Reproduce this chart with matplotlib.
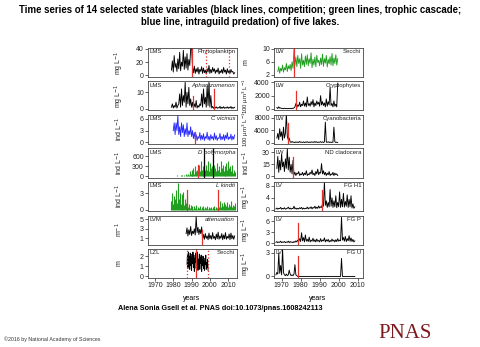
import numpy as np
import matplotlib.pyplot as plt

plt.rcParams['font.family'] = ['Liberation Sans', 'DejaVu Sans']

# ---- lake time series (half-yearly unless noted) ----
phyto_start = 1979.0
phyto = [8, 22, 5, 30, 12, 18, 6, 25, 10, 35, 7, 20, 14, 38, 9, 28, 11, 33, 8, 24, 15, 40,
         45, 12,
         4, 14, 3, 10, 5, 12, 2, 9, 6, 13, 3, 11, 4, 8, 2, 10, 5, 15, 3, 9, 4, 12, 6, 10,
         3, 8, 5, 11, 2, 7, 4, 9, 3, 12, 5, 8, 2, 10, 4, 7, 3, 9, 5, 6, 2, 4]

aphan_start = 1979.0
aphan = [1, 3, 0.5, 2, 1, 4, 0.5, 2,
         3, 9, 1, 12, 2, 8, 4, 16, 1, 10, 3, 13, 2, 6,
         1, 4, 0.5, 3, 1, 5, 0.5, 2, 1, 3,
         2, 9, 1, 12, 3, 7, 1, 14, 2, 16, 1, 8,
         0.5, 1.5, 0.3, 1, 0.5, 1.2, 0.3, 0.8, 0.5, 1.5, 0.2, 1, 0.4, 1.3, 0.3, 0.8,
         0.5, 1.2, 0.3, 1, 0.5, 1.4, 0.2, 0.9, 0.4, 1]

cvic_start = 1980.0
cvic = [3, 5, 2, 5, 3, 7, 2, 4, 1.5, 5, 2.5, 4.5, 1.5, 3.5, 2, 5, 1.5, 3, 2, 4, 1.5, 3, 1, 2.5,
        0.8, 2, 0.5, 1.5, 1, 2.5, 0.6, 1.8, 0.8, 2.2, 0.5, 1.5, 1, 2.6, 0.7, 1.6, 0.5, 2,
        0.9, 1.5, 0.6, 2.4, 0.8, 1.7, 0.5, 1.2, 1, 2.3, 0.6, 1.5, 0.8, 2, 0.5, 1.8, 1, 2.5,
        0.7, 1.4, 0.9, 2.1, 0.6, 1.6, 0.8, 1.9]

dpoly_start = 1979.0
dpoly = [10, 0, 20, 5, 15, 0, 30, 10, 20, 5, 40, 10, 25, 15, 50, 20, 60, 30,
         80, 40, 150, 60, 200, 100, 250, 80, 300, 150, 200, 120,
         350, 150, 450, 200, 300, 120, 500, 180, 350, 200, 450, 150, 400, 250, 300, 150,
         350, 100, 250, 150, 400, 200, 300, 120, 450, 250, 350, 150, 300, 100, 400, 200,
         450, 250, 300, 150, 350, 100, 200, 120]

lkin_start = 1979.0
lkin = [1.5, 3, 1, 2.5, 2, 3.5, 1.2, 4.8, 2, 3, 1, 2.8, 1.5, 3.2, 0.8, 2, 1.2, 2.5,
        0.5, 1, 0.3, 0.8, 0.4, 0.7, 0.2, 0.6, 0.3, 0.9, 0.2, 0.5, 0.3, 0.7, 0.2, 0.5,
        0.3, 0.6, 0.2, 0.4, 0.3, 0.6, 0.2, 0.5, 0.3, 0.4, 0.2, 0.5, 0.3, 0.6, 0.2, 0.4, 0.3, 0.5,
        0.5, 1.5, 0.4, 1.2, 0.6, 1.4, 0.5, 1, 0.7, 1.3, 0.4, 1.1, 0.6, 1.5, 0.5, 0.9, 0.6, 1.2]

atten_start = 1987.0
atten = [2, 3.2, 1.5, 2.8, 1.8, 3.5, 1.6, 2.5, 2, 3, 1.7, 5.6, 2.2, 3.3, 1.8, 2.9, 2, 3.4,
         0.9, 1.8, 0.8, 2, 1, 1.5, 0.7, 2.1, 0.9, 1.6, 0.8, 2.2, 1, 1.4, 0.7, 1.9, 0.9, 2.3,
         0.8, 1.5, 1, 2, 0.7, 1.7, 0.9, 2.2, 0.8, 1.4, 1, 1.9, 0.7, 2.1, 0.9, 1.6, 0.8, 1.5]

# quarterly
lzl_start = 1987.5
lzl_secchi = [1.2, 2.2, 0.8, 2.4, 1, 2, 0.7, 2.3, 1.1, 1.9, 0.6, 2.2, 1.3, 2.4, 0.9, 2.1,
              0.5, 1.8, 1.4, 2.3, 0.8, 2, 1.2, 2.4, 0.6, 1.7, 1, 2.2, 0.7, 1.9, 1.3, 2.1,
              0.5, 1.6, 1.1, 2, 0.8, 1.8, 0.6, 1.5, 1.2, 2.1, 0.7, 1.4, 0.9, 1.7, 0.6]

lw_start = 1968.0
lw_secchi = [3, 4.5, 2.5, 4, 3.2, 5, 2.8, 4.2, 3.5, 5.5, 3, 4.8, 3.8, 5.2, 3.3, 6, 4,
             9.8, 5, 7.5, 4.5, 8, 5.5, 7, 4, 8.5, 5, 6.5, 4.5, 7.8, 5.2, 8.2, 4.8, 7, 5.5,
             8.8, 4.2, 6.8, 5, 7.5, 4.5, 8, 5.8, 6.5, 4.8, 7.2, 5.2, 8.4, 4.6, 7, 5.6, 8,
             4.4, 6.8, 5.4, 7.6, 5, 8.6, 4.8, 7.2, 5.5, 8.2, 5, 7]

crypto_start = 1967.5
crypto = [200, 50, 300, 100, 150, 50, 80, 20, 100, 40, 60, 20, 50, 30, 80, 20, 100, 50, 150,
          300, 800, 200, 600, 400, 1000, 300, 700, 500, 1200, 400, 900,
          300, 1800, 500, 800, 400, 1100, 600, 1400, 300, 900, 500, 1200,
          700, 1000, 400, 2000, 600, 1100, 500, 900, 300, 1500, 400, 1100,
          600, 3300, 500, 800, 300, 1200, 400, 700, 300, 3900]

cyano_start = 1967.5
cyano = [1500, 3000, 1000, 4500, 2000, 3500, 800, 5000, 1500, 3000, 9500, 2000, 1000, 1500,
         300, 100, 400, 150, 200, 50, 300, 100, 250, 80,
         400, 150, 200, 100, 300, 50, 250, 120, 350, 100,
         200, 80, 300, 150, 250, 100, 400, 120, 300, 80,
         200, 150, 350, 100, 300, 80, 250, 6600, 200, 150,
         300, 100, 250, 80, 200, 150, 5000, 300, 100, 200, 80]

ndclad_start = 1967.5
ndclad = [10, 25, 5, 20, 8, 28, 12, 18, 6, 22, 10, 35, 8, 24, 5, 15, 3, 20,
          2, 5, 1, 4, 3, 6, 1, 3, 2, 5, 1, 4, 2, 7, 1, 3, 2, 5, 3, 8, 2, 4, 1, 6, 3, 9,
          2, 5, 4, 16, 3, 7, 2, 5, 1, 4, 2, 6, 1, 3, 2, 5, 1, 4, 2, 3, 1]

fgh1_start = 1967.0
fgh1 = [0.3, 0.6, 0.2, 0.5, 0.4, 0.8, 0.2, 0.5, 0.3, 0.7, 0.2, 0.4, 0.5, 0.9, 0.3, 0.6,
        0.2, 0.5, 0.4, 1.2, 0.3, 0.6, 0.2, 0.5, 0.3, 0.7, 0.4, 0.8, 0.2, 0.6, 0.3, 0.5,
        0.4, 0.9, 0.3, 0.7, 0.5, 1.0, 0.3, 0.8, 0.6, 1.2, 0.4, 0.9, 0.5, 1.3, 0.6, 1.0,
        0.8, 2, 1.2, 9.5, 1.5, 3, 0.8, 2.5, 1, 6.8, 1.2, 4, 0.8, 3, 1, 4.7, 0.7, 2.5,
        1, 6, 0.8, 3.5, 1, 5.5, 0.9, 2.8, 1.2, 5, 0.8, 3.5, 1, 4.7, 0.6, 2, 0.5, 1]

fgp_start = 1967.0
fgp = [0.2, 0.4, 0.1, 0.3, 0.2, 0.5, 0.1, 0.3, 0.2, 0.4, 0.1, 0.3, 0.2, 0.5, 0.1, 0.4,
       0.2, 0.3, 0.1, 0.4, 0.2, 0.6, 0.3, 0.8,
       0.5, 1.2, 0.4, 2.8, 0.6, 1.5, 0.3, 2.2, 0.5, 1.0, 0.4, 1.6, 0.3, 0.8, 0.5, 1.3,
       0.4, 0.9, 0.3, 1.1, 0.5, 0.7, 0.3, 1.2, 0.4, 0.8, 0.6, 1.4, 0.3, 0.9, 0.5, 1.0,
       0.3, 0.7, 0.4, 1.1, 0.5, 0.8, 0.3, 0.9, 0.4, 1.2, 0.5, 0.8,
       0.6, 7.0, 0.8, 1.5, 0.5, 1.8, 0.4, 1.2, 0.6, 2.0, 0.5, 1.4, 0.4, 1.0, 0.3, 0.6]

fgu_start = 1967.0
fgu = [0.2, 0.5, 0.3, 3.0, 0.4, 1.4, 0.2, 3.5, 0.5, 0.2, 0.1, 0.3, 0.1, 0.2, 0.8, 0.3,
       0.1, 0.2, 0.1, 0.3, 1.5, 0.2, 0.1, 0,
       0, 0, 0, 0, 0, 0, 0, 0, 0, 0, 0, 0, 0, 0, 0, 0, 0, 0, 0, 0, 0, 0,
       0, 0, 0, 0, 0, 0, 0, 0, 0, 0, 0, 0, 0, 0, 0, 0, 0, 0, 0, 0, 0, 0,
       0, 2.3, 0, 0, 0, 0, 0, 0, 0, 0, 0, 0, 0, 0, 0, 0]

# shift markers: (year, height, colour, style); height None = full panel
phyto_marks = [(1990.5, None, 'red', '-'), (1997.6, None, 'red', ':'), (2010.5, None, 'red', ':')]
aphan_marks = [(1990.9, 7.6, 'red', '-'), (2002.4, 11.7, 'red', '-')]
cvic_marks = [(1991.9, 2.7, 'red', '-')]
dpoly_marks = [(1993.7, 340, 'red', '-'), (1996.8, None, 'black', '-'), (2001.9, None, 'black', '-')]
lkin_marks = [(1987.7, 3.6, 'red', '-'), (2004.6, 3.6, 'red', '-')]
atten_marks = [(1995.5, 2.8, 'red', '-')]
lzl_marks = [(1987.5, None, 'red', ':'), (1992.5, None, 'red', '-'), (1999.0, None, 'red', ':')]
lw_marks = [(1976.5, None, 'red', '-')]
crypto_marks = [(1977.5, 2700, 'red', '-')]
cyano_marks = [(1973.4, 6200, 'red', '-')]
ndclad_marks = [(1976.1, 24, 'red', '-')]
fgh1_marks = [(1991.3, 6.7, 'red', '-')]
fgp_marks = [(1978.7, 5.5, 'red', '-')]
fgu_marks = [(1978.7, 2.6, 'red', '-')]

year_ticks = [1970, 1980, 1990, 2000, 2010]

GREEN = '#1f9e1f'
BLUE = '#2a2aff'
RED = '#e8312c'

# (values, start, step, colour, kind, lake, name, italic, unit, yticks, ylim, marks)
left_panels = [
    (phyto, phyto_start, 0.5, 'black', 'line', 'LMS', 'Phytoplankton', False,
     r'mg L$^{-1}$', [0, 20, 40], (-2.5, 41.5), phyto_marks),
    (aphan, aphan_start, 0.5, 'black', 'line', 'LMS', 'Aphanizomenon', True,
     r'mg L$^{-1}$', [0, 10], (-1.0, 16.5), aphan_marks),
    (cvic, cvic_start, 0.5, BLUE, 'line', 'LMS', 'C vicinus', True,
     r'ind L$^{-1}$', [0, 3, 6], (-0.4, 7.0), cvic_marks),
    (dpoly, dpoly_start, 0.5, GREEN, 'bar', 'LMS', 'D polymorpha', True,
     r'ind L$^{-1}$', [0, 300, 600], (-40, 840), dpoly_marks),
    (lkin, lkin_start, 0.5, GREEN, 'bar', 'LMS', 'L kindti', True,
     r'ind L$^{-1}$', [0, 3], (-0.25, 5.0), lkin_marks),
    (atten, atten_start, 0.5, 'black', 'line', 'LVM', 'attenuation', True,
     r'm$^{-1}$', [1, 3, 5], (-0.3, 5.8), atten_marks),
    (lzl_secchi, lzl_start, 0.25, 'black', 'line', 'LZL', 'Secchi', False,
     'm', [0, 1, 2], (-0.15, 2.7), lzl_marks),
]

right_panels = [
    (lw_secchi, lw_start, 0.5, GREEN, 'line', 'LW', 'Secchi', False,
     'm', [2, 6, 10], (1.3, 10.3), lw_marks),
    (crypto, crypto_start, 0.5, 'black', 'line', 'LW', 'Cryptophytes', False,
     r'100 µm$^3$ L$^{-1}$', [0, 2000, 4000], (-250, 4150), crypto_marks),
    (cyano, cyano_start, 0.5, 'black', 'line', 'LW', 'Cyanobacteria', False,
     r'100 µm$^3$ L$^{-1}$', [0, 4000, 8000], (-400, 8900), cyano_marks),
    (ndclad, ndclad_start, 0.5, 'black', 'line', 'LW', 'ND cladocera', False,
     r'ind L$^{-1}$', [0, 15, 30], (-1.5, 35), ndclad_marks),
    (fgh1, fgh1_start, 0.5, 'black', 'line', 'LV', 'FG H1', False,
     r'mg L$^{-1}$', [0, 4, 8], (-0.4, 9.3), fgh1_marks),
    (fgp, fgp_start, 0.5, 'black', 'line', 'LV', 'FG P', False,
     r'mg L$^{-1}$', [0, 3, 6], (-0.4, 7.5), fgp_marks),
    (fgu, fgu_start, 0.5, 'black', 'line', 'LV', 'FG U', False,
     r'mg L$^{-1}$', [0, 3], (-0.2, 3.5), fgu_marks),
]

W, H = 480, 347
fig = plt.figure(figsize=(W / 100, H / 100), dpi=100)


def px_box(left, top, width, height):
    return [left / W, 1 - (top + height) / H, width / W, height / H]


def draw_panel(ax, p, xlim, bottom_row):
    vals, start, step, col, kind, lake, name, italic, unit, yt, ylim, marks = p
    y = np.asarray(vals, dtype=float)
    x = start + step * np.arange(len(y))
    if kind == 'bar':
        ax.vlines(x, 0, y, color=col, lw=0.8)
    else:
        ax.plot(x, y, color=col, lw=0.65)
    for yr, top, mc, ls in marks:
        ytop = ylim[1] if top is None else top
        ax.plot([yr, yr], [ylim[0], ytop], color=RED if mc == 'red' else 'black',
                lw=0.9, ls=ls)
    ax.set_xlim(*xlim)
    ax.set_ylim(*ylim)
    ax.set_yticks(yt)
    ax.tick_params(axis='both', direction='out', length=2, width=0.5,
                   labelsize=5, pad=1, colors='#222222')
    if bottom_row:
        ax.set_xticks(year_ticks)
    else:
        ax.set_xticks([])
    for s in ax.spines.values():
        s.set_linewidth(0.6)
        s.set_color('#444444')
    ax.text(0.02, 0.96, lake, transform=ax.transAxes, ha='left', va='top',
            fontsize=4.3, color='#222222')
    ax.text(0.98, 0.96, name, transform=ax.transAxes, ha='right', va='top',
            fontsize=4.3, color='#222222', style='italic' if italic else 'normal')


tops = [48 + 33.5 * i for i in range(7)]

for i, p in enumerate(left_panels):
    ax = fig.add_axes(px_box(148, tops[i], 89, 29))
    draw_panel(ax, p, (1966.2, 2014.8), i == 6)
    fig.text(119 / W, 1 - (tops[i] + 14.5) / H, p[8], rotation=90,
             ha='center', va='center', fontsize=5, color='#222222')

for i, p in enumerate(right_panels):
    ax = fig.add_axes(px_box(274, tops[i], 89, 29))
    draw_panel(ax, p, (1966.0, 2012.8), i == 6)
    fs = 4.3 if len(p[8]) > 14 else 5
    fig.text(246 / W, 1 - (tops[i] + 14.5) / H, p[8], rotation=90,
             ha='center', va='center', fontsize=fs, color='#222222')

fig.text(192 / W, 1 - 298 / H, 'years', ha='center', va='center', fontsize=5)
fig.text(318 / W, 1 - 298 / H, 'years', ha='center', va='center', fontsize=5)

fig.text(0.5, 1 - 10 / H,
         'Time series of 14 selected state variables (black lines, competition; '
         'green lines, trophic cascade;',
         ha='center', va='center', fontsize=6.9, weight='bold')
fig.text(0.5, 1 - 22 / H, 'blue line, intraguild predation) of five lakes.',
         ha='center', va='center', fontsize=6.9, weight='bold')

fig.text(220 / W, 1 - 308 / H,
         'Alena Sonia Gsell et al. PNAS doi:10.1073/pnas.1608242113',
         ha='center', va='center', fontsize=5.2, weight='bold')
fig.text(4 / W, 1 - 339 / H, '©2016 by National Academy of Sciences',
         ha='left', va='center', fontsize=3.8, color='#333333')
fig.text(405 / W, 1 - 333 / H, 'PNAS', ha='center', va='center', fontsize=15,
         family='Liberation Serif', color='#7d1a1d')

fig.savefig('out.png', dpi=100)
